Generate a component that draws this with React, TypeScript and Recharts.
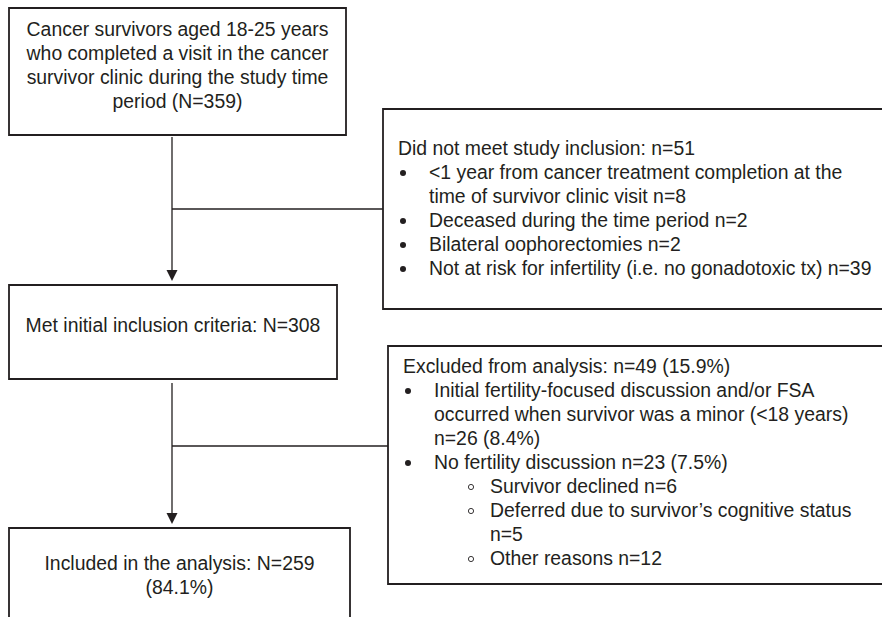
import React from "react";
import { ComposedChart, XAxis, YAxis, ReferenceArea, ReferenceLine, Scatter } from "recharts";

const W = 882;
const H = 617;
const INK = "#231f20";
const FONT = "'Liberation Sans', Arial, sans-serif";

// box contents
const screenedText = [
  "Cancer survivors aged 18-25 years",
  "who completed a visit in the cancer",
  "survivor clinic during the study time",
  "period (N=359)",
];
const eligibleText = ["Met initial inclusion criteria: N=308"];
const includedText = ["Included in the analysis: N=259", "(84.1%)"];

const notEligibleHeader = "Did not meet study inclusion: n=51";
const notEligibleItems = [
  { level: 1, bullet: true, text: "<1 year from cancer treatment completion at the" },
  { level: 1, bullet: false, text: "time of survivor clinic visit n=8" },
  { level: 1, bullet: true, text: "Deceased during the time period n=2" },
  { level: 1, bullet: true, text: "Bilateral oophorectomies n=2" },
  { level: 1, bullet: true, text: "Not at risk for infertility (i.e. no gonadotoxic tx) n=39" },
];

const excludedHeader = "Excluded from analysis: n=49 (15.9%)";
const excludedItems = [
  { level: 1, bullet: true, text: "Initial fertility-focused discussion and/or FSA" },
  { level: 1, bullet: false, text: "occurred when survivor was a minor (<18 years)" },
  { level: 1, bullet: false, text: "n=26 (8.4%)" },
  { level: 1, bullet: true, text: "No fertility discussion n=23 (7.5%)" },
  { level: 2, bullet: true, text: "Survivor declined n=6" },
  { level: 2, bullet: true, text: "Deferred due to survivor\u2019s cognitive status" },
  { level: 2, bullet: false, text: "n=5" },
  { level: 2, bullet: true, text: "Other reasons n=12" },
];

// layout (pixel-space domain)
const boxes = [
  { key: "screened", x1: 9, x2: 346, y1: 8, y2: 135 },
  { key: "notEligible", x1: 383, x2: 895, y1: 109, y2: 309 },
  { key: "eligible", x1: 9, x2: 337, y1: 285, y2: 379 },
  { key: "excluded", x1: 388, x2: 895, y1: 346, y2: 584 },
  { key: "included", x1: 9, x2: 350, y1: 528, y2: 640 },
];

const connectors = [
  [{ x: 172, y: 137 }, { x: 172, y: 272 }],
  [{ x: 172, y: 209 }, { x: 383, y: 209 }],
  [{ x: 172, y: 383 }, { x: 172, y: 515 }],
  [{ x: 172, y: 446 }, { x: 388, y: 446 }],
];
const arrowTips = [{ x: 172, y: 281 }, { x: 172, y: 524 }];

const LINE_H = 24;

type Mark = { x: number; y: number; text?: string; anchor?: string; dot?: "fill" | "open" };

function centered(lines: string[], box: { x1: number; x2: number }, firstBase: number): Mark[] {
  const cx = (box.x1 + box.x2) / 2;
  return lines.map((t, i) => ({ x: cx, y: firstBase + i * LINE_H, text: t, anchor: "middle" }));
}

function listed(header: string, items: { level: number; bullet: boolean; text: string }[], left: number, firstBase: number): Mark[] {
  const out: Mark[] = [{ x: left + 15, y: firstBase, text: header, anchor: "start" }];
  items.forEach((it, i) => {
    const base = firstBase + (i + 1) * LINE_H;
    const textX = it.level === 1 ? left + 46 : left + 102;
    const dotX = it.level === 1 ? left + 20 : left + 83;
    out.push({ x: textX, y: base, text: it.text, anchor: "start" });
    if (it.bullet) out.push({ x: dotX, y: base - 6, dot: it.level === 1 ? "fill" : "open" });
  });
  return out;
}

const bx = Object.fromEntries(boxes.map((b) => [b.key, b]));
const textMarks: Mark[] = [
  ...centered(screenedText, bx.screened, 36),
  ...centered(eligibleText, bx.eligible, 332),
  ...centered(includedText, bx.included, 570),
  ...listed(notEligibleHeader, notEligibleItems, bx.notEligible.x1, 155),
  ...listed(excludedHeader, excludedItems, bx.excluded.x1, 373),
];

function TextMark(props: any) {
  const { cx, cy, payload } = props;
  if (payload.dot === "fill") return <circle cx={cx} cy={cy} r={3} fill={INK} />;
  if (payload.dot === "open") return <circle cx={cx} cy={cy} r={2.6} fill="none" stroke={INK} strokeWidth={0.9} />;
  return (
    <text x={cx} y={cy} textAnchor={payload.anchor} fontFamily={FONT} fontSize={19.4} fill={INK}>
      {payload.text}
    </text>
  );
}

function ArrowHead(props: any) {
  const { cx, cy } = props;
  return <path d={`M${cx - 5.5},${cy - 11} L${cx + 5.5},${cy - 11} L${cx},${cy} Z`} fill={INK} />;
}

export default function App() {
  return (
    <div style={{ position: "absolute", left: 0, top: 0, background: "#fff" }}>
      <ComposedChart width={W} height={H} margin={{ top: 0, right: 0, bottom: 0, left: 0 }}>
        <XAxis type="number" dataKey="x" domain={[0, W]} hide allowDataOverflow />
        <YAxis type="number" dataKey="y" domain={[0, H]} reversed hide allowDataOverflow />
        {boxes.map((b) => (
          <ReferenceArea
            key={b.key}
            x1={b.x1}
            x2={b.x2}
            y1={b.y1}
            y2={b.y2}
            fill="#fff"
            fillOpacity={1}
            stroke={INK}
            strokeWidth={1.8}
            ifOverflow="visible"
          />
        ))}
        {connectors.map((seg, i) => (
          <ReferenceLine key={i} segment={seg} stroke={INK} strokeWidth={1.3} ifOverflow="visible" />
        ))}
        <Scatter data={arrowTips} shape={ArrowHead} isAnimationActive={false} legendType="none" />
        <Scatter data={textMarks} shape={TextMark} isAnimationActive={false} legendType="none" />
      </ComposedChart>
    </div>
  );
}
